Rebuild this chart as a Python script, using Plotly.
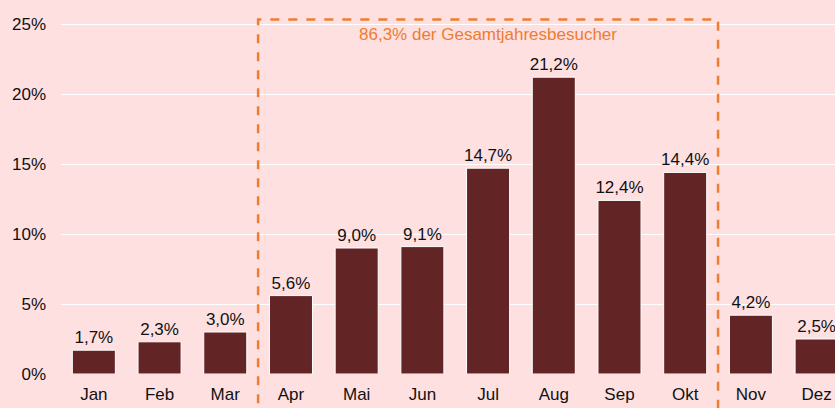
import plotly.graph_objects as go

months = ["Jan", "Feb", "Mar", "Apr", "Mai", "Jun", "Jul", "Aug", "Sep", "Okt", "Nov", "Dez"]
shares = [1.7, 2.3, 3.0, 5.6, 9.0, 9.1, 14.7, 21.2, 12.4, 14.4, 4.2, 2.5]
labels = [f"{v:.1f}%".replace(".", ",") for v in shares]
y_ticks = [0, 5, 10, 15, 20, 25]
y_tick_text = [f"{t}%" for t in y_ticks]
note = "86,3% der Gesamtjahresbesucher"

BG = "#FEE0E1"
BAR = "#632426"
ORANGE = "#ED7D31"
FONT = "Liberation Sans, Arial, sans-serif"

fig = go.Figure(
    go.Bar(
        x=list(range(len(months))),
        y=shares,
        text=labels,
        textposition="outside",
        constraintext="none",
        textfont=dict(size=17, color="#111111", family=FONT),
        marker=dict(color=BAR, line=dict(color="white", width=1)),
        cliponaxis=True,
        hoverinfo="skip",
    )
)

fig.update_layout(
    width=835,
    height=408,
    margin=dict(l=61, r=0, t=17, b=34, autoexpand=False),
    paper_bgcolor=BG,
    plot_bgcolor=BG,
    bargap=0.345,
    showlegend=False,
    font=dict(family=FONT, size=17, color="#111111"),
    xaxis=dict(
        range=[-0.5, 11.28],
        tickmode="array",
        tickvals=list(range(len(months))),
        ticktext=months,
        showgrid=False,
        zeroline=False,
        showline=False,
        ticks="outside",
        ticklen=5,
        tickcolor=BG,
        tickfont=dict(size=17),
        automargin=False,
    ),
    yaxis=dict(
        range=[0, 25.5],
        tickmode="array",
        tickvals=y_ticks,
        ticktext=y_tick_text,
        showgrid=True,
        gridcolor="white",
        gridwidth=1.3,
        zeroline=False,
        showline=False,
        ticklabelstandoff=14,
        tickfont=dict(size=17),
        automargin=False,
    ),
)

fig.add_shape(
    type="rect",
    xref="x",
    yref="paper",
    x0=2.5,
    x1=9.5,
    y0=-0.12,
    y1=0.993,
    line=dict(color=ORANGE, width=2.5, dash="dash"),
    fillcolor="rgba(0,0,0,0)",
    layer="above",
)

fig.add_annotation(
    x=6.0,
    xref="x",
    y=0.952,
    yref="paper",
    yanchor="middle",
    xanchor="center",
    text=note,
    showarrow=False,
    font=dict(size=17, color=ORANGE, family=FONT),
)

fig.write_html(
    "out.html",
    config={"displayModeBar": False},
    post_script="document.body.style.margin='0';document.body.style.overflow='hidden';",
)
